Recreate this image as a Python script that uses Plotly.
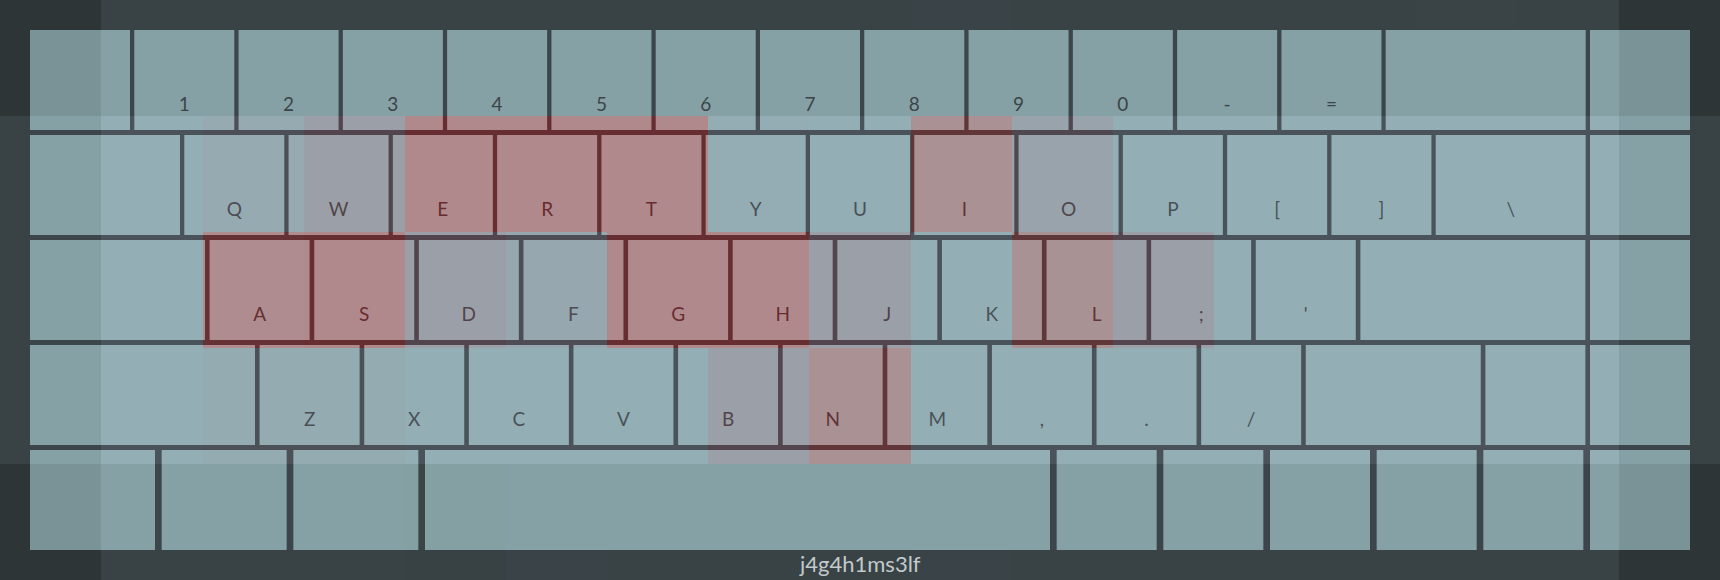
import plotly.graph_objects as go

# ---------------- data ----------------
# keyboard rows: key labels and key widths (in key units)
row0_labels = ["", "1", "2", "3", "4", "5", "6", "7", "8", "9", "0", "-", "=", "", ""]
row0_widths = [1] * 13 + [2, 1]
row1_labels = ["", "Q", "W", "E", "R", "T", "Y", "U", "I", "O", "P", "[", "]", "\\", ""]
row1_widths = [1.5] + [1] * 12 + [1.5, 1]
row2_labels = ["", "A", "S", "D", "F", "G", "H", "J", "K", "L", ";", "'", "", ""]
row2_widths = [1.75] + [1] * 11 + [2.25, 1]
row3_labels = ["", "Z", "X", "C", "V", "B", "N", "M", ",", ".", "/", "", "", ""]
row3_widths = [2.25] + [1] * 10 + [1.75, 1, 1]
row4_labels = [""] * 10
row4_widths = [1.25, 1.25, 1.25, 6.25, 1, 1, 1, 1, 1, 1]

# heat intensity grid (5 rows x 17 columns) laid over the board
heat_row0 = [0, 1, 1, 1, 1, 1, 1, 1, 1, 1.1, 1, 1, 1, 1, 1.05, 1, 0]
heat_row1 = [1, 3, 3.6, 5, 10, 10, 10, 3.3, 3, 8.5, 4.6, 3, 3, 3, 3, 3, 1]
heat_row2 = [1, 3, 9.5, 10, 5, 4, 10, 10, 5, 3, 8.2, 5, 3, 3, 3, 3, 1]
heat_row3 = [1, 3, 3.4, 3.4, 3, 3, 3, 5, 8.5, 3, 3, 3, 3, 3, 3, 3, 1]
heat_row4 = [0, 1, 1, 1, 0.9, 1.1, 1, 1, 1, 1.1, 1, 1, 1, 1, 1, 1, 0]

caption = "j4g4h1ms3lf"

# ---------------- style ----------------
W, H = 1720, 580
PAD = 30
UNIT = 100
ROW_GAP = 5
BG = "#293436"
BOARD = "#2f3a3c"
KEY = "#b2dfe2"
TEXT = "#2d3637"
FONT = "Lato"

rows_labels = [row0_labels, row1_labels, row2_labels, row3_labels, row4_labels]
rows_widths = [row0_widths, row1_widths, row2_widths, row3_widths, row4_widths]
heat = [heat_row0, heat_row1, heat_row2, heat_row3, heat_row4]

fig = go.Figure()

shapes = [dict(type="rect", xref="x", yref="y", x0=PAD, x1=W - PAD, y0=PAD, y1=H - PAD,
               fillcolor=BOARD, line=dict(width=0), layer="below")]

lx, ly, lt = [], [], []
inner = W - 2 * PAD
for r, (labels, widths) in enumerate(zip(rows_labels, rows_widths)):
    n = len(widths)
    gap = (inner - sum(widths) * UNIT) / (n - 1)
    y0 = PAD + r * (UNIT + ROW_GAP)
    x = PAD
    for lab, w in zip(labels, widths):
        kw = w * UNIT
        shapes.append(dict(type="rect", xref="x", yref="y", x0=x, x1=x + kw, y0=y0, y1=y0 + UNIT,
                           fillcolor=KEY, line=dict(width=0), layer="below"))
        if lab:
            lx.append(x + kw / 2)
            ly.append(y0 + 76)
            lt.append(lab)
        x += kw + gap

fig.add_trace(go.Scatter(x=lx, y=ly, text=lt, mode="text", textposition="middle center",
                         textfont=dict(family=FONT, size=19, color=TEXT),
                         hoverinfo="skip", showlegend=False, xaxis="x", yaxis="y"))

colorscale = [
    [0.0, "#35383a"],
    [0.1, "#4f575b"],
    [0.3, "#6d747e"],
    [0.5, "#7f5563"],
    [0.8, "#9c3839"],
    [1.0, "#ae2227"],
]
fig.add_trace(go.Heatmap(z=heat, x=list(range(17)), y=list(range(5)), zmin=0, zmax=10,
                         colorscale=colorscale, showscale=False, opacity=0.45,
                         hoverinfo="skip", xaxis="x2", yaxis="y2", zsmooth=False))

fig.add_annotation(x=W / 2, y=H - 17, xref="x", yref="y", text=caption, showarrow=False,
                   font=dict(family=FONT, size=22, color="#c2cacc"))

ax = dict(visible=False, showgrid=False, zeroline=False, fixedrange=True)
fig.update_layout(
    width=W, height=H,
    margin=dict(l=0, r=0, t=0, b=0, pad=0),
    paper_bgcolor=BG, plot_bgcolor=BG,
    shapes=shapes,
    xaxis=dict(range=[0, W], **ax),
    yaxis=dict(range=[H, 0], **ax),
    xaxis2=dict(range=[-0.5, 16.5], overlaying="x", **ax),
    yaxis2=dict(range=[4.5, -0.5], overlaying="y", **ax),
    showlegend=False,
)

fig.write_html("out.html")
